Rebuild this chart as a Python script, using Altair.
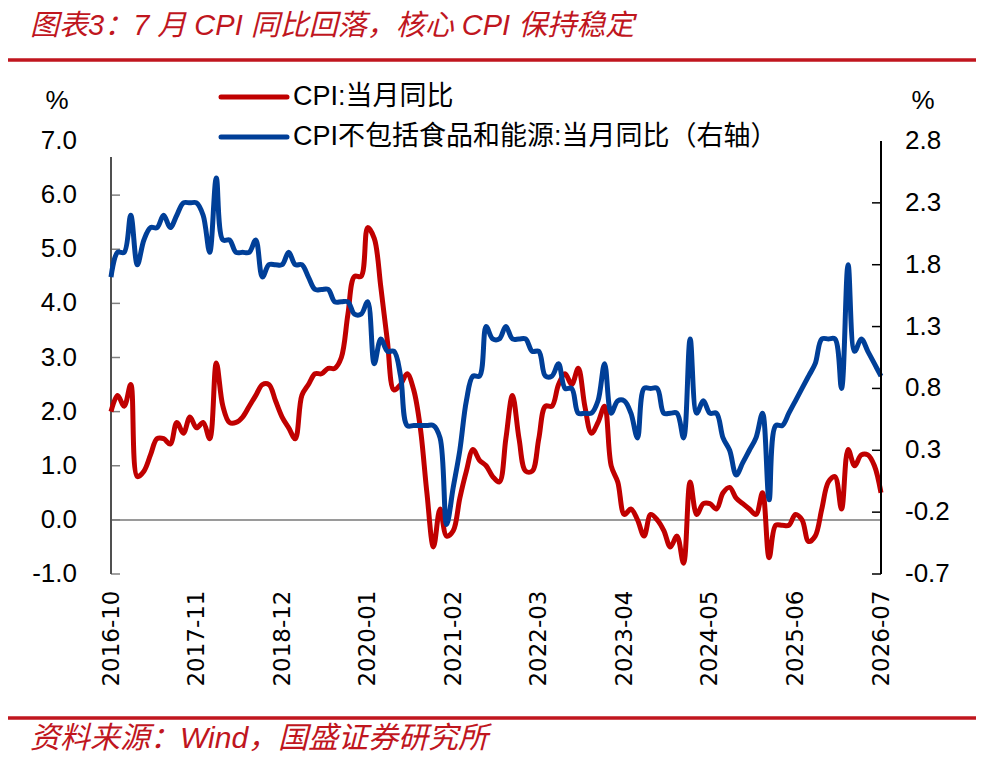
import altair as alt
import pandas as pd

# ---------------- data ----------------
months = [p.strftime('%Y-%m') for p in pd.period_range('2016-10', '2026-07', freq='M')]

cpi = [2.0, 2.3, 2.1,
       2.5, 0.8, 0.9, 1.2, 1.5, 1.5, 1.4, 1.8, 1.6, 1.9, 1.7, 1.8,
       1.5, 2.9, 2.1, 1.8, 1.8, 1.9, 2.1, 2.3, 2.5, 2.5, 2.2, 1.9,
       1.7, 1.5, 2.3, 2.5, 2.7, 2.7, 2.8, 2.8, 3.0, 3.8, 4.5, 4.5,
       5.4, 5.2, 4.3, 3.3, 2.4, 2.5, 2.7, 2.4, 1.7, 0.5, -0.5, 0.2,
       -0.3, -0.2, 0.4, 0.9, 1.3, 1.1, 1.0, 0.8, 0.7, 1.5, 2.3, 1.5,
       0.9, 0.9, 1.5, 2.1, 2.1, 2.5, 2.7, 2.5, 2.8, 2.1, 1.6, 1.8,
       2.1, 1.0, 0.7, 0.1, 0.2, 0.0, -0.3, 0.1, 0.0, -0.2, -0.5, -0.3,
       -0.8, 0.7, 0.1, 0.3, 0.3, 0.2, 0.5, 0.6, 0.4, 0.3, 0.2, 0.1,
       0.5, -0.7, -0.1, -0.1, -0.1, 0.1, 0.0, -0.4, -0.3, 0.2, 0.7, 0.8,
       0.2, 1.3, 1.0, 1.2, 1.2, 1.0, 0.5]

core = [1.7, 1.9, 1.9,
        2.2, 1.8, 2.0, 2.1, 2.1, 2.2, 2.1, 2.2, 2.3, 2.3, 2.3, 2.2,
        1.9, 2.5, 2.0, 2.0, 1.9, 1.9, 1.9, 2.0, 1.7, 1.8, 1.8, 1.8,
        1.9, 1.8, 1.8, 1.7, 1.6, 1.6, 1.6, 1.5, 1.5, 1.5, 1.4, 1.4,
        1.5, 1.0, 1.2, 1.1, 1.1, 0.9, 0.5, 0.5, 0.5, 0.5, 0.5, 0.4,
        -0.3, 0.0, 0.3, 0.7, 0.9, 0.9, 1.3, 1.2, 1.2, 1.3, 1.2, 1.2,
        1.2, 1.1, 1.1, 0.9, 0.9, 1.0, 0.8, 0.8, 0.6, 0.6, 0.6, 0.7,
        1.0, 0.6, 0.7, 0.7, 0.6, 0.4, 0.8, 0.8, 0.8, 0.6, 0.6, 0.6,
        0.4, 1.2, 0.6, 0.7, 0.6, 0.6, 0.4, 0.3, 0.1, 0.2, 0.3, 0.4,
        0.6, -0.1, 0.5, 0.5, 0.6, 0.7, 0.8, 0.9, 1.0, 1.2, 1.2, 1.2,
        0.8, 1.8, 1.1, 1.2, 1.1, 1.0, 0.9]

x_labels = ['2016-10', '2017-11', '2018-12', '2020-01', '2021-02',
            '2022-03', '2023-04', '2024-05', '2025-06', '2026-07']
left_labels = [-1.0, 0.0, 1.0, 2.0, 3.0, 4.0, 5.0, 6.0, 7.0]
right_labels = [-0.7, -0.2, 0.3, 0.8, 1.3, 1.8, 2.3, 2.8]
left_ticks = [-1.0, 0.0, 1.0, 2.0, 3.0, 4.0, 5.0, 6.0]
right_ticks = [-0.7, -0.2, 0.3, 0.8, 1.3, 1.8, 2.3]

title_text = '图表3：7 月 CPI 同比回落，核心 CPI 保持稳定'
source_text = '资料来源：Wind，国盛证券研究所'
legend_red = 'CPI:当月同比'
legend_blue = 'CPI不包括食品和能源:当月同比（右轴）'

df = pd.DataFrame({'month': months, 'cpi': cpi, 'core': core})
left_lbl_df = pd.DataFrame({'v': left_labels, 't': [f'{v:.1f}' for v in left_labels]})
right_lbl_df = pd.DataFrame({'v': right_labels, 't': [f'{v:.1f}' for v in right_labels]})

# ---------------- styles ----------------
RED = '#C00000'
BLUE = '#003F98'
DECO = '#C0161E'
LDOM = [-1.0, 7.0]
RDOM = [-0.7, 2.8]
W, H = 770, 433
LAT = 'Liberation Sans, Noto Sans CJK SC'

lscale = alt.Scale(domain=LDOM, nice=False, zero=False)
rscale = alt.Scale(domain=RDOM, nice=False, zero=False)

x_axis = alt.Axis(values=x_labels, labelAngle=-90, labelFontSize=23,
                  labelFont='DejaVu Sans', labelColor='#000000',
                  labelPadding=16, domain=False, ticks=False, tickSize=0,
                  grid=False, title=None, labelOverlap=False)
xenc = alt.X('month:O', sort=None, scale=alt.Scale(type='point', padding=0),
             axis=x_axis)

base = alt.Chart(df)

red_line = base.mark_line(color=RED, strokeWidth=5, interpolate='catmull-rom',
                          strokeJoin='round').encode(
    x=xenc,
    y=alt.Y('cpi:Q', scale=lscale, axis=None)
)

zero_line = alt.Chart(df).mark_rule(color='#9A9A9A', strokeWidth=1.6).encode(
    y=alt.Y(datum=0, scale=lscale, axis=None)
)

lticks = alt.Chart(pd.DataFrame({'v': left_ticks})).mark_rule(
    color='#808080', strokeWidth=1.5).encode(
    y=alt.Y('v:Q', scale=lscale, axis=None),
    x=alt.value(0), x2=alt.value(9)
)

laxis = alt.Chart(df).mark_rule(color='#505050', strokeWidth=1.5).encode(
    x=alt.value(0),
    y=alt.Y(datum=6.7, scale=lscale, axis=None),
    y2=alt.datum(-1.0)
)

llabels = alt.Chart(left_lbl_df).mark_text(
    align='right', baseline='middle', fontSize=26, font='Liberation Sans',
    color='#000000').encode(
    y=alt.Y('v:Q', scale=lscale, axis=None),
    x=alt.value(-34), text='t:N'
)

def txt(s, x, y, size, color='#000000', align='left', style='normal'):
    return alt.Chart(pd.DataFrame({'t': [s]})).mark_text(
        align=align, baseline='middle', fontSize=size, color=color,
        font=LAT, fontStyle=style).encode(
        text='t:N', x=alt.value(x), y=alt.value(y))

def hline(x1, x2, y, color, width):
    return alt.Chart(pd.DataFrame({'a': [0]})).mark_rule(
        color=color, strokeWidth=width, strokeCap='round').encode(
        x=alt.value(x1), x2=alt.value(x2), y=alt.value(y))

decor = [
    txt(title_text, -81, -115, 29, DECO, style='italic'),
    hline(-103, 869, -81, DECO, 3.5),
    hline(-103, 869, 577, DECO, 3.5),
    txt(source_text, -81, 598, 30, DECO, style='italic'),
    hline(110, 176, -44, RED, 5),
    hline(110, 176, -4, BLUE, 5),
    txt(legend_red, 182, -44, 27),
    txt(legend_blue, 182, -4, 27),
    txt('%', -54, -40, 26, align='center'),
    txt('%', 812, -40, 26, align='center'),
]

left = alt.layer(zero_line, lticks, laxis, llabels, red_line, *decor)

blue_line = base.mark_line(color=BLUE, strokeWidth=5, interpolate='catmull-rom',
                           strokeJoin='round').encode(
    x=alt.X('month:O', sort=None, scale=alt.Scale(type='point', padding=0),
            axis=x_axis),
    y=alt.Y('core:Q', scale=rscale, axis=None)
)

rticks = alt.Chart(pd.DataFrame({'v': right_ticks})).mark_rule(
    color='#000000', strokeWidth=1.5).encode(
    y=alt.Y('v:Q', scale=rscale, axis=None),
    x=alt.value(W - 9), x2=alt.value(W)
)

raxis = alt.Chart(df).mark_rule(color='#000000', strokeWidth=1.5).encode(
    x=alt.value(W),
    y=alt.Y(datum=2.8, scale=rscale, axis=None),
    y2=alt.datum(-0.7)
)

rlabels = alt.Chart(right_lbl_df).mark_text(
    align='left', baseline='middle', fontSize=26, font='Liberation Sans',
    color='#000000').encode(
    y=alt.Y('v:Q', scale=rscale, axis=None),
    x=alt.value(W + 24), text='t:N'
)

right = alt.layer(blue_line, rticks, raxis, rlabels)

chart = alt.layer(left, right).resolve_scale(y='independent').properties(
    width=W, height=H,
    padding={'left': 103, 'top': 133, 'right': 95, 'bottom': 180},
    autosize=alt.AutoSizeParams(type='none'),
    background='#FFFFFF'
).configure_view(stroke=None)

chart.save('out.html', embed_options={'renderer': 'svg', 'actions': False})
